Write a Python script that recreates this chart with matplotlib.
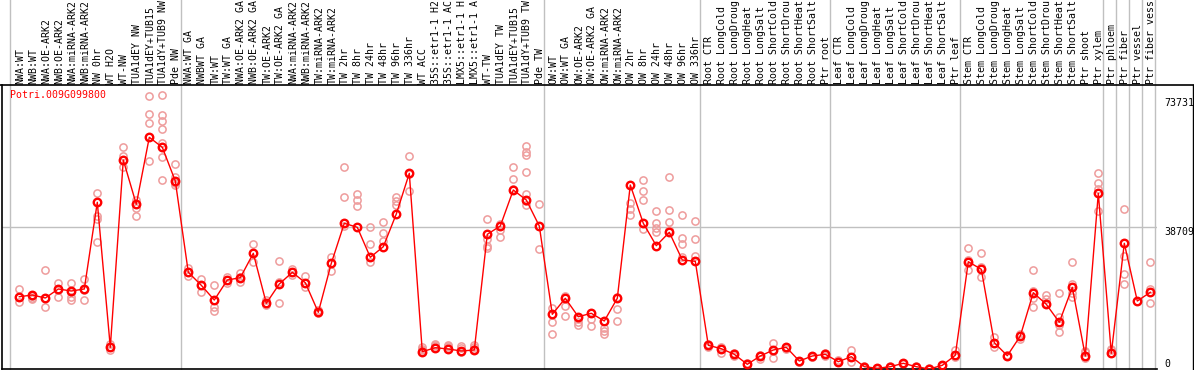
import matplotlib
matplotlib.use("Agg")
import matplotlib.pyplot as plt
import matplotlib.transforms as mtransforms
from matplotlib.lines import Line2D

# ---------------- data ----------------
gene = "Potri.009G099800"

# sample names as shown (truncated to the visible 14 characters)
labels = [
    "NWA:WT", "NWB:WT", "NWA:OE-ARK2", "NWB:OE-ARK2", "NWA:miRNA-ARK2", "NWB:miRNA-ARK2",
    "NW 0hr", "WT H2O", "WT-NW", "TUA1dEY NW", "TUA1dEY+TUB15", "TUA1dY+TUB9 NW", "Pde NW",
    "NWA:WT GA", "NWBWT GA", "TW:WT", "TW:WT GA", "NWA:OE-ARK2 GA", "NWB:OE-ARK2 GA",
    "TW:OE-ARK2", "TW:OE-ARK2 GA", "NWA:miRNA-ARK2", "NWB:miRNA-ARK2", "TW:miRNA-ARK2",
    "TW:miRNA-ARK2", "TW 2hr", "TW 8hr", "TW 24hr", "TW 48hr", "TW 96hr", "TW 336hr",
    "WT ACC", "35S::etr1-1 H2", "35S::etr1-1 AC", "LMX5::etr1-1 H", "LMX5::etr1-1 A",
    "WT-TW", "TUA1dEY TW", "TUA1dEY+TUB15", "TUA1dY+TUB9 TW", "Pde TW",
    "OW:WT", "OW:WT GA", "OW:OE-ARK2", "OW:OE-ARK2 GA", "OW:miRNA-ARK2", "OW:miRNA-ARK2",
    "OW 2hr", "OW 8hr", "OW 24hr", "OW 48hr", "OW 96hr", "OW 336hr",
    "Root CTR", "Root LongCold", "Root LongDroug", "Root LongHeat", "Root LongSalt",
    "Root ShortCold", "Root ShortDrou", "Root ShortHeat", "Root ShortSalt", "Ptr root",
    "Leaf CTR", "Leaf LongCold", "Leaf LongDroug", "Leaf LongHeat", "Leaf LongSalt",
    "Leaf ShortCold", "Leaf ShortDrou", "Leaf ShortHeat", "Leaf ShortSalt", "Ptr leaf",
    "Stem CTR", "Stem LongCold", "Stem LongDroug", "Stem LongHeat", "Stem LongSalt",
    "Stem ShortCold", "Stem ShortDrou", "Stem ShortHeat", "Stem ShortSalt", "Ptr shoot",
    "Ptr xylem", "Ptr phloem", "Ptr fiber", "Ptr vessel", "Ptr fiber vess",
]

# mean expression per sample
means = [
    19695, 20158, 19340, 21792, 21247, 21792, 45410, 5911, 56932, 44864,
    63115, 60391, 51211, 26341, 22800, 18796, 24244, 24870, 31517, 17897,
    23154, 26341, 23508, 15445, 28793, 39689, 38599, 30427, 33315, 42222,
    53309, 4713, 5802, 5448, 4903, 5176, 36692, 38953, 48760, 46036,
    38953, 14900, 19259, 14247, 15173, 13075, 19259, 50122, 39689, 33587,
    37237, 29692, 29338, 6456, 5530, 4004, 1280, 3541, 5176, 5911,
    2179, 3541, 4004, 1989, 3351, 627, 190, 627, 1553, 627,
    0, 1008, 3732, 29229, 27158, 7164, 3623, 8989, 20784, 17624,
    12721, 22255, 3541, 47861, 4277, 34241, 18523, 20893,
]

# replicate values per sample
replicates = [
    [21883, 19605, 18243], [19877, 19332, 19150], [26961, 19242, 16790], [23519, 21522, 19525],
    [23519, 21067, 19525, 18798], [24519, 21522, 18798], [47851, 41767, 40859, 34503],
    [6810, 5902, 5175], [60485, 58033, 55036], [46126, 43856, 41676],
    [74471, 69477, 67025, 56672], [74562, 69295, 67479, 65390, 61485, 57852, 51495],
    [55945, 52403, 50767, 50132], [27415, 26325, 25326], [24610, 22794, 21067],
    [22885, 18798, 16982, 15892], [24973, 24247, 23338], [26143, 24973, 23610],
    [34044, 31502, 29232], [18798, 17890, 17436], [29504, 23610, 17890],
    [27234, 26325, 25507], [25326, 23519, 22249], [16163, 15528, 15256],
    [30594, 28777, 26689], [55127, 46954, 39054], [47588, 46045, 44410],
    [38782, 34044, 29232], [40043, 36956, 34958], [46862, 45772, 44592],
    [57942, 53222, 48408], [5993, 5539, 5085], [6901, 6628, 6174], [6446, 6265, 5993],
    [6174, 5720, 4631], [6628, 5993, 5357], [40767, 35499, 33502, 32866],
    [39404, 37770, 35953], [55127, 51677, 49134], [60666, 59123, 58215, 53676, 47679, 45681, 44773],
    [45045, 38953, 32594], [16708, 12804, 9439], [19877, 17153, 14429],
    [13531, 12804, 12078], [15347, 13531, 11714], [11260, 10352, 9444],
    [19604, 16244, 13066], [45226, 43683, 42048], [51495, 48499, 46045, 38236],
    [42957, 39775, 38422, 37423], [52404, 43320, 40049, 37883],
    [41858, 35771, 34143, 30512], [40404, 35499, 30869], [6810, 6446, 6083],
    [6083, 5539, 4267], [4267, 3996, 3632], [1544, 1272, 999], [3813, 3541, 2815],
    [6992, 4902, 3087], [5902, 5720, 5357], [2179, 2000, 1800], [3632, 3359, 3178],
    [4451, 4004, 3632], [2542, 2088, 1816], [5267, 3360, 1997], [800, 627, 400],
    [300, 190, 100], [800, 627, 450], [1700, 1553, 1400], [800, 627, 450],
    [150, 0, 0], [1200, 1008, 850], [5085, 3714, 3360], [32957, 29781, 27057],
    [31684, 27781, 25055], [8627, 6992, 6083], [3800, 3623, 3450], [9534, 8990, 8082],
    [27058, 21159, 19343, 16891], [20253, 19073, 17984], [20797, 14248, 11980, 10163],
    [29232, 23156, 20616, 19707], [4812, 4539, 2997], [53494, 50769, 49134, 43051],
    [5539, 5085, 4358], [43503, 30777, 25781, 23064], [18523], [29232, 21793, 17890],
]

group_breaks = [-0.72, 12.4, 40.36, 52.4, 62.4, 72.4, 83.36, 84.4, 85.4, 86.4, 87.4]
ytick_vals = [0, 38709, 73731]
ytick_labels = ["0", "38709", "73731"]

# ---------------- figure ----------------
W, H = 1194, 370
fig = plt.figure(figsize=(W / 100, H / 100), dpi=100)
ax = fig.add_axes([2 / W, 1 / H, 1155 / W, 284 / H])

x = list(range(len(means)))
ax.set_xlim((2 - 19.3) / 13, (1157 - 19.3) / 13)
ax.set_ylim(0, 284 * 272.4)

mono = "DejaVu Sans Mono"
fs = 7.1

# grid lines
for b in group_breaks:
    ax.axvline(b, ymin=0, ymax=369 / 284, color="#c0c0c0", lw=1, clip_on=False, zorder=0)
ax.axhline(38709, color="#c0c0c0", lw=1, zorder=0)

# replicates
rx, ry = [], []
for i, reps in enumerate(replicates):
    for v in reps:
        rx.append(i)
        ry.append(v)
ax.plot(rx, ry, ls="none", marker="o", ms=5.2, mfc="none", mec="#ee9c9c", mew=1.1, zorder=2)

# mean line
ax.plot(x, means, color="#ff0000", lw=1, marker="o", ms=5.4, mfc="none", mec="#ff0000",
        mew=1.7, zorder=3)

# spines
for s in ["top", "right"]:
    ax.spines[s].set_visible(False)
ax.spines["left"].set_color("black")
ax.spines["bottom"].set_color("black")
ax.spines["left"].set_linewidth(1.2)
ax.spines["bottom"].set_linewidth(1.2)

# top separator line across full width, right edge line
fig.add_artist(Line2D([0, 1], [1 - 85 / H, 1 - 85 / H], color="black", lw=1.2,
                      transform=fig.transFigure))
fig.add_artist(Line2D([1 - 1 / W, 1 - 1 / W], [1 / H, 1 - 85 / H], color="black", lw=1.0,
                      transform=fig.transFigure))

# x labels (rotated, above plot)
ax.set_xticks([])
trans = mtransforms.blended_transform_factory(ax.transData, ax.transAxes)
off = mtransforms.ScaledTranslation(1 / 100, 1.5 / 100, fig.dpi_scale_trans)
for i, lab in enumerate(labels):
    ax.text(i, 1, lab, rotation=90, ha="center", va="bottom", family=mono, fontsize=fs,
            color="black", transform=trans + off, clip_on=False)

# right y tick labels
ax.yaxis.tick_right()
ax.set_yticks(ytick_vals)
ax.set_yticklabels(ytick_labels, family=mono, fontsize=fs)
ax.tick_params(axis="y", length=0, pad=5)
for t in ax.get_yticklabels():
    if t.get_text() == "0":
        t.set_verticalalignment("bottom")
    else:
        t.set_verticalalignment("top")

# gene title
ax.text(8 / 1155, 1 - 10 / 284, gene, color="#ff0000", family=mono, fontsize=fs,
        ha="left", va="center", transform=ax.transAxes)

fig.savefig("out.png", dpi=100)
